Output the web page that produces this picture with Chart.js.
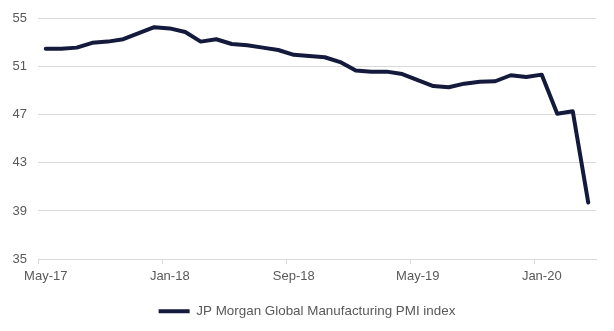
<!DOCTYPE html>
<html>
<head>
<meta charset="utf-8">
<script src="https://cdn.jsdelivr.net/npm/chart.js@4"></script>
<style>
html,body{margin:0;padding:0;background:#fff;}
#wrap{width:614px;height:331px;}
</style>
</head>
<body>
<div id="wrap"><canvas id="c" width="614" height="331"></canvas></div>
<script>
const categories = ["May-17","Jun-17","Jul-17","Aug-17","Sep-17","Oct-17","Nov-17","Dec-17",
"Jan-18","Feb-18","Mar-18","Apr-18","May-18","Jun-18","Jul-18","Aug-18","Sep-18","Oct-18","Nov-18","Dec-18",
"Jan-19","Feb-19","Mar-19","Apr-19","May-19","Jun-19","Jul-19","Aug-19","Sep-19","Oct-19","Nov-19","Dec-19",
"Jan-20","Feb-20","Mar-20","Apr-20"];
const pmiValues = [52.5,52.5,52.6,53.0,53.1,53.3,53.8,54.3,
54.2,53.9,53.1,53.3,52.9,52.8,52.6,52.4,52.0,51.9,51.8,51.4,
50.7,50.6,50.6,50.4,49.9,49.4,49.3,49.6,49.75,49.8,50.3,50.15,
50.35,47.1,47.3,39.7];
const seriesName = "JP Morgan Global Manufacturing PMI index";
const yTicks = [35,39,43,47,51,55];
const labelEvery = 8;

const lineColor = '#141a3c';
const textColor = '#595959';
const gridColor = '#d9d9d9';
const font = {family: '"Liberation Sans", Arial, sans-serif', size: 13};

new Chart(document.getElementById('c'), {
  type: 'line',
  data: {
    labels: categories,
    datasets: [{
      label: seriesName,
      data: pmiValues,
      borderColor: lineColor,
      backgroundColor: lineColor,
      borderWidth: 4,
      pointRadius: 0,
      tension: 0,
      borderJoinStyle: 'round',
      borderCapStyle: 'round'
    }]
  },
  options: {
    responsive: false,
    animation: false,
    layout: {padding: {left: 0, right: 0, top: 12, bottom: 3}},
    plugins: {
      tooltip: {enabled: false},
      legend: {
        position: 'bottom',
        labels: {
          color: textColor,
          font: {family: font.family, size: 13.4},
          boxWidth: 31,
          boxHeight: 4,
          padding: 12,
          generateLabels: (chart) => {
            const items = Chart.defaults.plugins.legend.labels.generateLabels(chart);
            items.forEach(it => { it.lineWidth = 0; it.strokeStyle = 'rgba(0,0,0,0)'; });
            return items;
          }
        }
      }
    },
    scales: {
      x: {
        offset: true,
        afterFit: (s) => { s.height += 3; },
        grid: {
          offset: true,
          drawOnChartArea: false,
          drawTicks: true,
          tickLength: 5,
          color: (ctx) => (ctx.index % labelEvery === 0) ? gridColor : 'rgba(0,0,0,0)'
        },
        border: {display: true, color: gridColor},
        ticks: {
          autoSkip: false,
          maxRotation: 0,
          color: textColor,
          font: font,
          padding: 5,
          callback: function(v, i) { return i % labelEvery === 0 ? categories[i] : ''; }
        }
      },
      y: {
        min: 35,
        max: 55,
        afterBuildTicks: (s) => { s.ticks = yTicks.map(v => ({value: v})); },
        afterFit: (s) => { s.width = 38; },
        grid: {color: gridColor, drawTicks: false},
        border: {display: false},
        ticks: {color: textColor, font: font, padding: 11}
      },
      yRight: {
        position: 'right',
        display: true,
        min: 35,
        max: 55,
        afterFit: (s) => { s.width = 18; },
        grid: {display: false, drawTicks: false},
        border: {display: false},
        ticks: {display: false}
      }
    }
  }
});
</script>
</body>
</html>
